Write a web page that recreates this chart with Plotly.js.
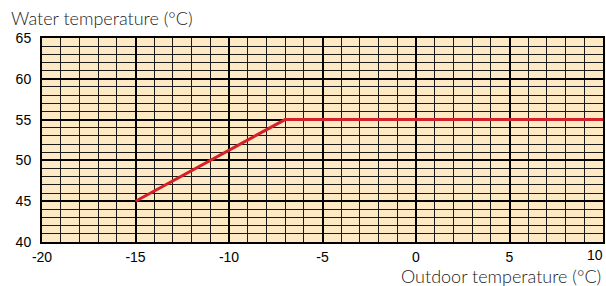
<!DOCTYPE html>
<html>
<head>
<meta charset="utf-8">
<script src="https://cdn.plot.ly/plotly-3.0.1.min.js"></script>
<style>html,body{margin:0;padding:0;background:#fff;}#chart{width:606px;height:286px;}</style>
</head>
<body>
<div id="chart"></div>
<script>
const outdoorTemp = [-15, -7, 10];
const waterTemp = [45, 55, 55];
const xTicks = [-20, -15, -10, -5, 0, 5, 10];
const yTicks = [40, 45, 50, 55, 60, 65];

const trace = {
  x: outdoorTemp, y: waterTemp, type: 'scatter', mode: 'lines',
  line: {color: '#d42027', width: 3}, hoverinfo: 'none'
};

const lastX = xTicks[xTicks.length - 1];
const xText = xTicks.map((v, i) => i === xTicks.length - 1 ? '' : String(v));

const layout = {
  width: 606, height: 286,
  margin: {l: 42, r: 3, t: 38, b: 44},
  paper_bgcolor: '#ffffff',
  plot_bgcolor: '#fde9c4',
  showlegend: false,
  font: {family: 'Liberation Sans, Arial, sans-serif', size: 14, color: '#000'},
  xaxis: {
    range: [-20, 10], tickvals: xTicks, ticktext: xText,
    showgrid: true, gridcolor: '#000', gridwidth: 2,
    minor: {dtick: 1, showgrid: true, gridcolor: '#1a1a1a', gridwidth: 1},
    zeroline: false, showline: true, linecolor: '#000', linewidth: 2, mirror: true,
    ticks: '', ticklabelstandoff: 1, ticklabeloverflow: 'allow', fixedrange: true
  },
  yaxis: {
    range: [40, 65], tickvals: yTicks, ticktext: yTicks.map(String),
    showgrid: true, gridcolor: '#000', gridwidth: 2,
    minor: {dtick: 1, showgrid: true, gridcolor: '#1a1a1a', gridwidth: 1},
    zeroline: false, showline: true, linecolor: '#000', linewidth: 2, mirror: true,
    ticks: '', ticklabelstandoff: 6, ticklabeloverflow: 'allow', fixedrange: true
  },
  annotations: [
    {text: String(lastX), xref: 'x', yref: 'paper', x: lastX, y: 0, xanchor: 'right', yanchor: 'top', xshift: 2, yshift: -3, showarrow: false,
     font: {family: 'Liberation Sans, Arial, sans-serif', size: 14, color: '#000'}},
    {text: 'Water temperature (°C)', xref: 'paper', yref: 'paper', x: -0.058, y: 1, xanchor: 'left', yanchor: 'bottom', yshift: 7, showarrow: false,
     font: {family: 'Lato, sans-serif', weight: 300, size: 18, color: '#222'}},
    {text: 'Outdoor temperature (°C)', xref: 'paper', yref: 'paper', x: 1, y: 0, xanchor: 'right', yanchor: 'top', yshift: -21, showarrow: false,
     font: {family: 'Lato, sans-serif', weight: 300, size: 18, color: '#222'}}
  ]
};

Plotly.newPlot('chart', [trace], layout, {staticPlot: true, displayModeBar: false});
</script>
</body>
</html>
